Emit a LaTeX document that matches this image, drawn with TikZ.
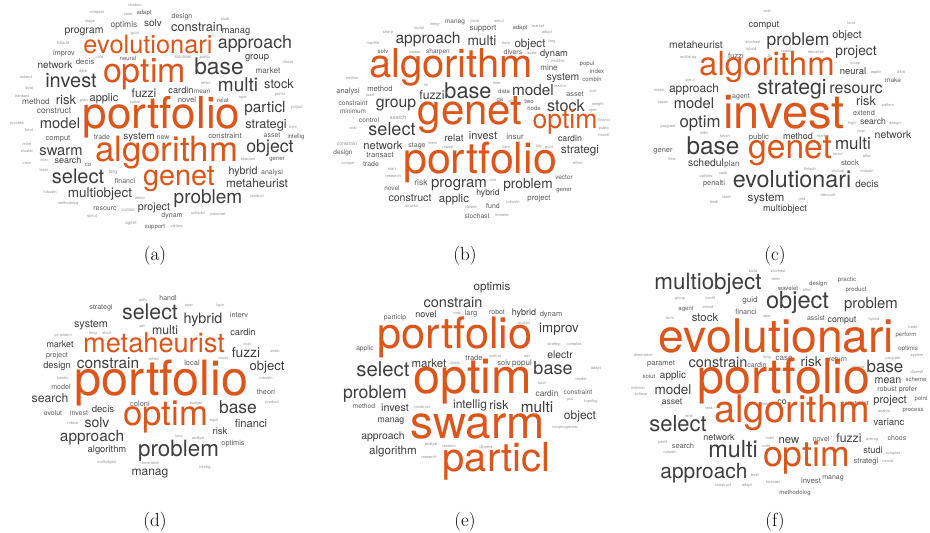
\documentclass[tikz,border=0pt]{standalone}
\usepackage{fontspec}
\newfontfamily\heros{TeX Gyre Heros}
\definecolor{wcorange}{RGB}{220,86,28}
\definecolor{wcdark}{RGB}{62,62,62}
\definecolor{wcmid}{RGB}{92,92,92}
\definecolor{wclight}{RGB}{150,150,150}
\newcounter{wcn}
\newcommand\wcw[4]{\stepcounter{wcn}%
  \ifdim#3pt>8.5pt\def\wcc{wcdark}\else\ifdim#3pt>5.5pt\def\wcc{wcmid}\else\def\wcc{wclight}\fi\fi
  \node[wcword,text=\wcc,font=\heros\fontsize{#3}{#3}\selectfont] (w\arabic{wcn}) at (#1,#2) {#4};}
\newcommand\wco[4]{\stepcounter{wcn}%
  \node[wcword,text=wcorange,font=\heros\fontsize{#3}{#3}\selectfont] (w\arabic{wcn}) at (#1,#2) {#4};}
\tikzset{wcword/.style={inner sep=0pt,anchor=base},
  panlab/.style={inner sep=0pt,anchor=base,font=\fontsize{19}{19}\selectfont}}
\begin{document}
\begin{tikzpicture}[x=1pt,y=-1pt]
\useasboundingbox[fill=white] (0,0) rectangle (930,533);
% ---------------- (a)
\wcw{135}{6}{4}{random}
\wcw{97}{13}{4}{complex}
\wcw{128}{15}{4}{case}
\wcw{144}{14}{6}{adapt}
\wcw{153}{26}{10}{solv}
\wcw{90}{22}{4}{stage}
\wcw{124}{27}{8.5}{optimis}
\wcw{84}{33}{10.5}{program}
\wcw{135}{34}{4}{guid}
\wco{148}{53}{25.4}{evolutionari}
\wcw{63}{44}{4.5}{robust}
\wcw{100}{58}{4}{rule}
\wcw{64}{55}{7.3}{improv}
\wcw{128}{60}{6}{neural}
\wco{144.5}{82}{34}{optim}
\wcw{55}{68}{10}{network}
\wcw{85}{64}{7.9}{decis}
\wcw{83}{72}{4}{data}
\wcw{26}{78}{4}{extend}
\wcw{71}{87}{20}{invest}
\wcw{29}{89}{4}{local}
\wcw{144}{97}{12}{fuzzi}
\wcw{22}{97}{4}{transact}
\wcw{66}{104}{13}{risk}
\wcw{104}{101}{11}{applic}
\wcw{84}{101}{4}{plan}
\wcw{135}{103}{4}{coloni}
\wcw{36}{104}{8.3}{method}
\wcw{54}{113}{8.5}{construct}
\wco{161.5}{128}{44}{portfolio}
\wcw{60}{128}{14.7}{model}
\wcw{17}{124}{4}{process}
\wcw{29}{131}{4}{fund}
\wcw{58}{140}{7.5}{comput}
\wcw{102}{139}{7}{trade}
\wcw{139}{139}{10}{system}
\wcw{27}{145}{4}{mine}
\wcw{27}{152}{4}{cluster}
\wcw{61}{155}{14.7}{swarm}
\wco{166.5}{161}{34.8}{algorithm}
\wcw{68}{163}{9}{search}
\wcw{27}{164}{4}{insur}
\wcw{44}{161}{4}{cost}
\wcw{88}{166}{6}{co}
\wcw{44}{171}{4}{learn}
\wcw{113}{173}{5}{larg}
\wcw{125}{183}{7}{financi}
\wcw{78}{183}{20}{select}
\wco{179}{185}{28.8}{genet}
\wcw{50}{193}{4}{robustn}
\wcw{100}{197}{13.4}{multiobject}
\wcw{140}{199}{4}{electr}
\wcw{68}{204}{4}{methodolog}
\wcw{154}{210}{10.7}{project}
\wcw{105}{210}{7}{resourc}
\wcw{128}{211}{4.5}{control}
\wcw{92}{217}{4}{simul}
\wcw{131}{224}{4.5}{agent}
\wcw{155}{228}{6}{support}
\wcw{182}{18}{7}{design}
\wcw{225}{20}{4}{studi}
\wcw{197}{31}{12.8}{constrain}
\wcw{236}{33}{9.3}{manag}
\wcw{255}{48}{17.8}{approach}
\wcw{183}{58}{4.5}{stochast}
\wcw{205}{58}{4}{public}
\wcw{257}{59}{9.4}{group}
\wcw{288}{63}{4}{divers}
\wcw{219}{74}{22.8}{base}
\wcw{268}{73}{8.2}{market}
\wcw{206}{84}{4}{effect}
\wcw{238}{91}{19}{multi}
\wcw{279}{88}{12.7}{stock}
\wcw{181}{93}{9.2}{cardin}
\wcw{202}{93}{6.5}{mean}
\wcw{280}{95}{4}{prefer}
\wcw{187}{102}{7.7}{novel}
\wcw{223}{102}{6}{relat}
\wcw{243}{98}{4}{oper}
\wcw{297}{108}{4.5}{popul}
\wcw{265}{112}{15.3}{particl}
\wcw{266}{128}{12.7}{strategi}
\wcw{293}{128}{4}{time}
\wcw{163}{139}{7}{new}
\wcw{225}{138}{7.7}{constraint}
\wcw{272}{137}{7}{asset}
\wcw{296}{138}{6}{intellig}
\wcw{270}{152}{17.7}{object}
\wcw{248}{160}{4}{sharpen}
\wcw{277}{160}{6}{gener}
\wcw{243}{174}{10.7}{hybrid}
\wcw{272}{174}{7}{analysi}
\wcw{257}{187}{11.9}{metaheurist}
\wcw{208}{203}{19}{problem}
\wcw{257}{197}{4}{product}
\wcw{172}{217}{7}{dynam}
\wcw{198}{214}{4}{schedul}
\wcw{218}{215}{4}{paramet}
\wcw{177}{227}{4}{varianc}
% ---------------- (b)
\wcw{455}{23}{6.5}{manag}
\wcw{435}{25}{4}{integr}
\wcw{419}{29}{4}{mutat}
\wcw{388}{33}{4}{sharp}
\wcw{428}{43}{15.6}{approach}
\wcw{482}{45}{13.7}{multi}
\wcw{373}{44}{4}{machin}
\wcw{383}{53}{6}{solv}
\wcw{415}{53}{4}{power}
\wcw{438}{53}{6.5}{sharpen}
\wco{451}{77}{39.9}{algorithm}
\wcw{352}{79}{4}{envisio}
\wcw{348}{93}{7.5}{analysi}
\wcw{380}{91}{7.6}{method}
\wcw{426}{86}{4}{lot}
\wcw{370}{96}{4}{load}
\wcw{468}{98}{21.7}{base}
\wcw{432}{99}{12.2}{fuzzi}
\wcw{396}{107}{15.8}{group}
\wcw{353}{105}{6.7}{constraint}
\wcw{353}{113}{6.4}{minimum}
\wco{470}{124}{42}{genet}
\wcw{369}{122}{6.7}{control}
\wcw{398}{119}{5.5}{search}
\wcw{353}{129}{4}{cost}
\wcw{392}{135}{18}{select}
\wcw{454}{141}{9.8}{relat}
\wcw{347}{145}{5}{constrain}
\wcw{383}{149}{11.2}{network}
\wcw{417}{147}{7}{stage}
\wcw{433}{144}{4}{learn}
\wcw{448}{148}{4}{robust}
\wcw{343}{154}{6.5}{design}
\wcw{380}{157}{7.7}{transact}
\wcw{348}{164}{4}{compar}
\wcw{371}{166}{7}{trade}
\wco{480}{173}{43}{portfolio}
\wcw{392}{170}{4}{start}
\wcw{393}{177}{4}{research}
\wcw{421}{185}{8.5}{risk}
\wcw{392}{190}{6.4}{novel}
\wcw{459}{187}{15}{program}
\wcw{410}{201}{10.6}{construct}
\wcw{454}{202}{11.5}{applic}
\wcw{412}{207}{4}{structur}
\wcw{471}{208}{4}{cluster}
\wcw{477}{218}{6.7}{stochast}
\wcw{475}{22}{4}{price}
\wcw{499}{22}{4}{simul}
\wcw{483}{30}{8}{support}
\wcw{520}{29}{6}{adapt}
\wcw{538}{27}{4}{market}
\wcw{547}{33}{4}{adopt}
\wcw{506}{44}{4}{beta}
\wcw{530}{47}{11.6}{object}
\wcw{552}{42}{4}{larg}
\wcw{513}{54}{7}{divers}
\wcw{532}{54}{4}{scale}
\wcw{554}{56}{9.3}{dynam}
\wcw{558}{62}{4}{multilev}
\wcw{587}{65}{6}{popul}
\wcw{549}{70}{8}{mine}
\wcw{597}{73}{6}{index}
\wcw{563}{80}{10.4}{system}
\wcw{592}{81}{6}{combin}
\wcw{497}{84}{4}{near}
\wcw{560}{87}{4}{maxim}
\wcw{504}{93}{6}{data}
\wcw{533}{95}{15.3}{model}
\wcw{575}{96}{7.3}{asset}
\wcw{593}{92}{4}{sort}
\wcw{500}{101}{6}{ga}
\wcw{511}{102}{4}{role}
\wcw{529}{103}{6}{two}
\wcw{566}{111}{16.2}{stock}
\wcw{534}{110}{6}{node}
\wcw{598}{105}{4}{weight}
\wcw{593}{111}{4}{oper}
\wco{565}{128}{26.6}{optim}
\wcw{604}{121}{4}{financi}
\wcw{604}{129}{4}{public}
\wcw{604}{136}{4}{neural}
\wcw{483}{139}{11}{invest}
\wcw{515}{139}{8}{insur}
\wcw{570}{141}{8.8}{cardin}
\wcw{506}{148}{4}{time}
\wcw{539}{147}{4}{big}
\wcw{549}{148}{4}{guid}
\wcw{580}{153}{11.7}{strategi}
\wcw{578}{164}{4}{effect}
\wcw{564}{179}{6.5}{vector}
\wcw{493}{181}{4}{rule}
\wcw{528}{188}{13.7}{problem}
\wcw{564}{191}{6}{gener}
\wcw{488}{195}{8.6}{hybrid}
\wcw{539}{200}{7.7}{project}
\wcw{513}{203}{4}{robustn}
\wcw{493}{208}{7}{fund}
\wcw{502}{216}{4}{investor}
% ---------------- (c)
\wcw{767}{12}{4}{cost}
\wcw{764}{27}{9.3}{comput}
\wcw{696}{48}{10.3}{metaheurist}
\wcw{753}{43}{4}{stochast}
\wcw{751}{50}{4}{hybrid}
\wcw{798}{45}{17.4}{problem}
\wcw{736}{58}{7.6}{fuzzi}
\wcw{688}{58}{4}{multistag}
\wcw{770}{57}{4}{lp}
\wco{767}{75}{33}{algorithm}
\wcw{690}{81}{4}{simul}
\wcw{659}{91}{4}{mean}
\wcw{694}{92}{12}{approach}
\wcw{792}{94}{21.3}{strategi}
\wcw{741}{98}{7}{agent}
\wcw{663}{103}{4}{capac}
\wcw{694}{108}{14.7}{model}
\wco{784}{128}{47}{invest}
\wcw{700}{127}{16.8}{optim}
\wcw{668}{127}{4}{program}
\wcw{704}{134}{4}{indic}
\wcw{725}{137}{4}{smart}
\wcw{759}{139}{7.7}{public}
\wcw{713}{154}{24.4}{base}
\wcw{663}{152}{7.5}{gener}
\wco{790}{158}{33.6}{genet}
\wcw{672}{160}{4}{flow}
\wcw{706}{166}{10.4}{schedul}
\wcw{732}{166}{8}{plan}
\wcw{706}{177}{4}{optimis}
\wcw{723}{174}{4}{cash}
\wcw{714}{185}{7.4}{penalti}
\wcw{792}{187}{23.3}{evolutionari}
\wcw{727}{198}{4}{learn}
\wcw{714}{203}{4}{landi}
\wcw{766}{201}{11.7}{system}
\wcw{785}{211}{9.2}{multiobject}
\wcw{851}{24}{4}{fund}
\wcw{847}{38}{10.9}{object}
\wcw{788}{52}{4}{random}
\wcw{816}{53}{4}{repositori}
\wcw{856}{55}{13.8}{project}
\wcw{855}{64}{4}{cross}
\wcw{853}{74}{9.5}{neural}
\wcw{876}{73}{4}{applic}
\wcw{901}{73}{4}{data}
\wcw{893}{82}{6.5}{make}
\wcw{856}{93}{16}{resourc}
\wcw{866}{105}{12.7}{risk}
\wcw{888}{106}{4}{pattern}
\wcw{864}{115}{7.3}{extend}
\wcw{852}{124}{4}{high}
\wcw{873}{124}{8.6}{search}
\wcw{895}{124}{4}{design}
\wcw{861}{132}{4}{new}
\wcw{798}{139}{9}{method}
\wcw{823}{137}{4}{market}
\wcw{893}{138}{10.5}{network}
\wcw{853}{149}{17}{multi}
\wcw{838}{155}{4}{secur}
\wcw{867}{157}{4}{alloc}
\wcw{850}{165}{7.7}{stock}
\wcw{810}{170}{4}{fintech}
\wcw{838}{172}{4}{mutual}
\wcw{867}{172}{4}{industri}
\wcw{867}{187}{10}{decis}
\wcw{828}{196}{4}{discount}
\wcw{802}{200}{4}{grid}
% ---------------- (d)
\wcw{143}{301}{4}{activ}
\wcw{101}{309}{7.1}{strategi}
\wcw{150}{319}{21.4}{select}
\wcw{168}{300}{7}{handl}
\wcw{189}{306}{4}{oper}
\wcw{220}{306}{4}{type}
\wcw{91}{327}{10.8}{system}
\wcw{142}{327}{4}{set}
\wcw{63}{336}{4}{constraint}
\wcw{93}{334}{4}{long}
\wcw{107}{334}{4}{short}
\wcw{165}{334}{12.3}{multi}
\wcw{203}{323}{14.4}{hybrid}
\wcw{239}{317}{7.4}{interv}
\wcw{243}{335}{9.3}{cardin}
\wco{154}{352}{27.2}{metaheurist}
\wcw{60}{347}{8.9}{market}
\wcw{57}{357}{7.3}{project}
\wcw{247}{345}{4}{cost}
\wcw{275}{352}{4}{evalu}
\wcw{246}{357}{13.8}{fuzzi}
\wcw{154}{360}{4}{effect}
\wcw{223}{359}{4}{novel}
\wcw{57}{368}{9.3}{design}
\wcw{108}{368}{15.4}{constrain}
\wcw{192}{365}{7.5}{local}
\wcw{267}{370}{13.1}{object}
\wcw{63}{379}{4}{pareto}
\wco{161.5}{395}{48.6}{portfolio}
\wcw{266}{379}{4}{robustn}
\wcw{61}{389}{7.1}{model}
\wcw{266}{394}{7.3}{theori}
\wcw{50}{402}{12.2}{search}
\wcw{196}{404}{4}{budget}
\wcw{272}{403}{4}{product}
\wcw{140}{406}{7.5}{coloni}
\wcw{238}{413}{17.5}{base}
\wcw{103}{412}{9.6}{decis}
\wco{165.5}{425}{34.8}{optim}
\wcw{53}{415}{6.9}{evolut}
\wcw{79}{415}{7}{invest}
\wcw{73}{424}{4}{robust}
\wcw{97}{427}{14}{solv}
\wcw{214}{421}{4}{equit}
\wcw{251}{427}{11.2}{financi}
\wcw{220}{434}{9.5}{risk}
\wcw{92}{441}{15.4}{approach}
\wcw{179}{437}{4}{futur}
\wcw{198}{439}{4}{analysi}
\wcw{233}{445}{7.3}{optimis}
\wcw{107}{452}{9.4}{algorithm}
\wcw{178.5}{456}{22.4}{problem}
\wcw{107}{463}{4}{multiobject}
\wcw{150}{464}{4}{uncertainti}
\wcw{205}{468}{4}{intellig}
\wcw{150}{475}{12}{manag}
% ---------------- (e)
\wcw{492}{290}{11.6}{optimis}
\wcw{453}{307}{14.5}{constrain}
\wcw{395}{319}{6.8}{particip}
\wcw{426}{317}{9}{novel}
\wcw{457}{314}{4}{new}
\wcw{471}{315}{7.5}{larg}
\wcw{497}{314}{7}{robot}
\wcw{524}{315}{9}{hybrid}
\wcw{551}{316}{7.5}{dynam}
\wcw{524}{324}{4}{multipl}
\wco{455}{348}{43.3}{portfolio}
\wcw{559}{332}{13.3}{improv}
\wcw{365}{350}{6.7}{applic}
\wcw{554}{345}{4}{strategi}
\wcw{574}{345}{4}{complex}
\wcw{474}{360}{7.5}{trade}
\wcw{495}{357}{4}{control}
\wcw{527}{357}{4}{set}
\wcw{560}{358}{10.4}{electr}
\wcw{383}{376}{20.3}{select}
\wcw{429}{367}{11.5}{market}
\wcw{455}{364}{4}{decis}
\wcw{504}{365}{7.5}{solv}
\wcw{522}{365}{8}{popul}
\wcw{553}{374}{18}{base}
\wcw{596}{369}{4}{adapt}
\wco{472.5}{393}{48.7}{optim}
\wcw{542}{384}{4}{fuzzi}
\wcw{581}{380}{4}{model}
\wcw{375}{398}{17.7}{problem}
\wcw{547}{396}{8.4}{cardin}
\wcw{578}{394}{6.6}{constraint}
\wcw{570}{400}{4}{pso}
\wcw{591}{402}{4}{topolog}
\wcw{470}{408}{12}{intellig}
\wcw{499}{409}{12.4}{risk}
\wcw{537}{412}{15.3}{multi}
\wcw{364}{408}{6.7}{method}
\wcw{395}{411}{10.7}{invest}
\wcw{422}{408}{4}{construct}
\wcw{580}{419}{12}{object}
\wco{477.5}{438}{45.9}{swarm}
\wcw{565}{428}{4}{morphogenesi}
\wcw{391}{422}{8.7}{manag}
\wcw{383}{439}{10.4}{approach}
\wcw{431}{445}{4}{analysi}
\wcw{449}{447}{4}{random}
\wcw{486}{448}{4}{dimens}
\wcw{393}{454}{11.6}{algorithm}
\wcw{429}{458}{4}{research}
\wco{496.5}{471}{40}{particl}
% ---------------- (f)
\wcw{753}{272}{4}{build}
\wcw{778}{272}{4}{stochast}
\wcw{776}{280}{4}{deriv}
\wcw{708}{289}{22.4}{multiobject}
\wcw{788}{290}{6}{wavelet}
\wcw{807}{291}{4}{effici}
\wcw{818}{285}{6}{design}
\wcw{847}{281}{6.2}{practic}
\wcw{856}{291}{6.2}{product}
\wcw{680}{299}{4}{group}
\wcw{710}{299}{4}{credit}
\wcw{750}{302}{8}{guid}
\wcw{797.5}{308}{23.6}{object}
\wcw{871}{308}{14.9}{problem}
\wcw{686}{310}{6}{agent}
\wcw{708}{308}{4}{encod}
\wcw{746}{314}{7.3}{financi}
\wcw{767}{317}{4}{oper}
\wcw{670}{319}{4}{term}
\wcw{705}{321}{11.4}{stock}
\wcw{816}{320}{7}{assist}
\wcw{842}{322}{8.7}{comput}
\wcw{874}{320}{4}{hybrid}
\wco{776.5}{352}{46.3}{evolutionari}
\wcw{913}{328}{4}{trade}
\wcw{906}{336}{6}{perform}
\wcw{908}{350}{6.3}{optimis}
\wcw{917}{356}{4}{system}
\wcw{893}{359}{4}{program}
\wcw{643}{356}{4}{dimension}
\wcw{767}{358}{4}{long}
\wcw{784}{360}{8}{case}
\wcw{811}{366}{13.5}{risk}
\wcw{838}{361}{7}{return}
\wcw{661}{365}{7.6}{paramet}
\wcw{718}{367}{14.5}{constrain}
\wcw{757}{367}{7}{cardin}
\wcw{858}{368}{4}{compar}
\wcw{885}{372}{17}{base}
\wcw{917}{373}{4}{diversif}
\wcw{649}{378}{6}{solut}
\wcw{673}{378}{10}{applic}
\wcw{888}{383}{10.7}{mean}
\wcw{916}{381}{6}{scheme}
\wcw{638}{389}{4}{individu}
\wcw{641}{395}{4}{softwar}
\wcw{673}{394}{13.5}{model}
\wcw{887}{391}{7}{robust}
\wcw{908}{391}{7}{prefer}
\wco{784}{393}{48.4}{portfolio}
\wcw{672}{404}{8.6}{asset}
\wcw{723}{405}{4}{rule}
\wcw{764}{405}{4}{method}
\wcw{782}{404}{8.8}{co}
\wcw{855}{405}{6.3}{constraint}
\wcw{890}{403}{11.1}{project}
\wcw{921}{400}{6}{point}
\wcw{884}{412}{4}{analysi}
\wcw{913}{411}{6}{process}
\wcw{709}{409}{4}{less}
\wco{792}{422}{37.9}{algorithm}
\wcw{889}{425}{9.6}{varianc}
\wcw{689}{417}{4}{refer}
\wcw{678}{431}{22}{select}
\wcw{719}{440}{8.9}{network}
\wcw{770}{439}{4}{mani}
\wcw{766}{447}{4}{code}
\wcw{789}{443}{11.3}{new}
\wcw{821}{441}{7}{novel}
\wcw{849}{442}{12.2}{fuzzi}
\wcw{872}{440}{4}{averag}
\wcw{897}{440}{7}{choos}
\wcw{663}{443}{4}{partit}
\wcw{683}{448}{7.4}{search}
\wcw{670}{453}{4}{robustn}
\wcw{733}{457}{23.4}{multi}
\wco{806.5}{466}{35.6}{optim}
\wcw{873}{453}{9.2}{studi}
\wcw{893}{454}{4}{complex}
\wcw{866}{463}{7.6}{strategi}
\wcw{888}{462}{4}{neural}
\wcw{704}{478}{20.9}{approach}
\wcw{755}{476}{4}{best}
\wcw{773}{483}{4}{forecast}
\wcw{723}{486}{4}{construct}
\wcw{747}{486}{4}{adapt}
\wcw{833}{479}{7}{manag}
\wcw{811}{483}{7.7}{invest}
\wcw{795}{494}{6}{methodolog}
% ---------------- labels
\node[panlab] (la) at (155,260) {(a)};
\node[panlab] (lb) at (465,260) {(b)};
\node[panlab] (lc) at (775,260) {(c)};
\node[panlab] (ld) at (155,526) {(d)};
\node[panlab] (le) at (465,526) {(e)};
\node[panlab] (lf) at (775,526) {(f)};
\end{tikzpicture}
\end{document}
